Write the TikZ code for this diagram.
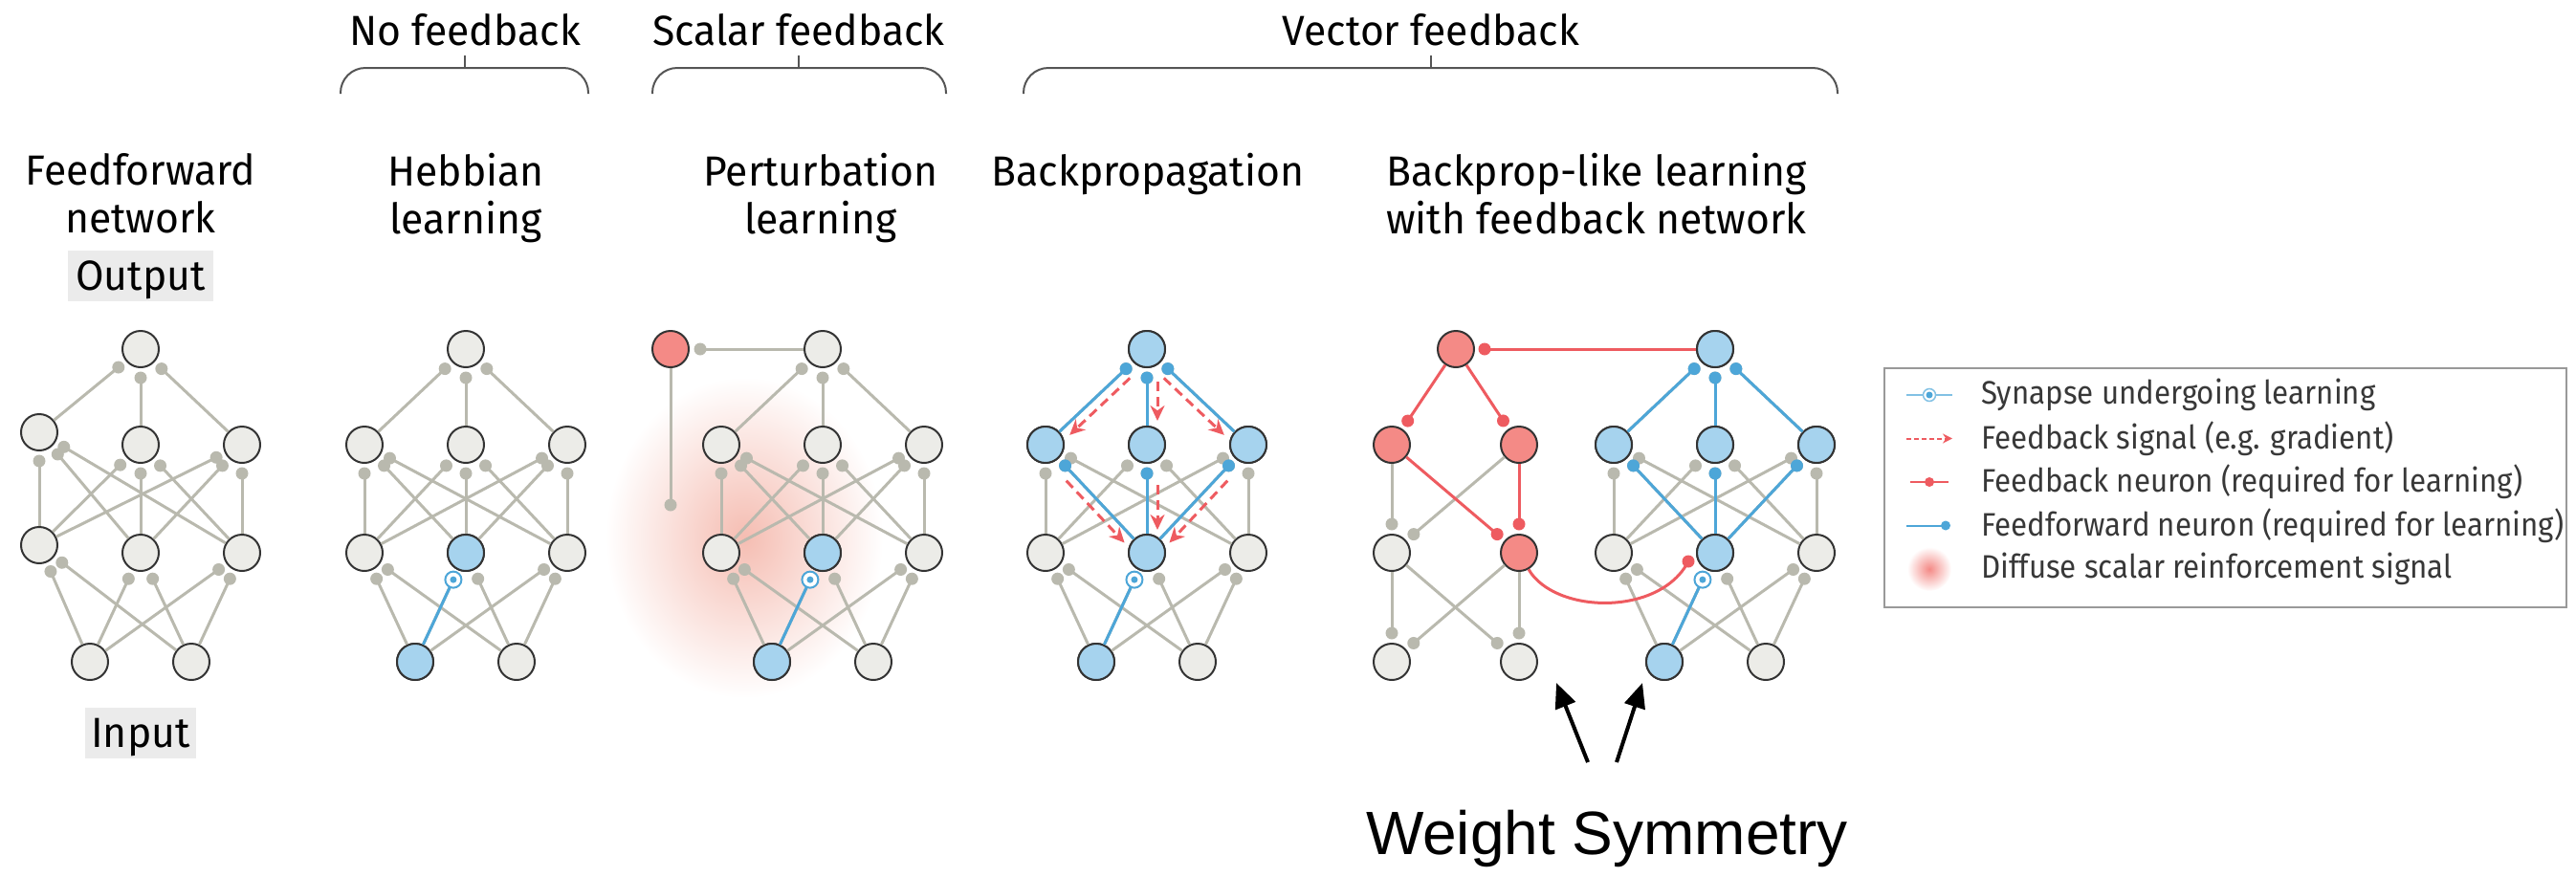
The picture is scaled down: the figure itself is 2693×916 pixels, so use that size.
\documentclass[tikz,border=0pt]{standalone}
\usepackage{fontspec}
\setmainfont{Fira Sans}[FakeStretch=0.97]
\newfontfamily\legendfont{Fira Sans}[FakeStretch=0.92]
\newfontfamily\wsfont{Liberation Sans}
\usetikzlibrary{arrows.meta,calc,shapes}
\definecolor{cellgray}{HTML}{ECECE8}
\definecolor{edgegray}{HTML}{333333}
\definecolor{wiregray}{HTML}{B9B9AE}
\definecolor{ffblue}{HTML}{A6D3EE}
\definecolor{ffline}{HTML}{4DA6D8}
\definecolor{fbred}{HTML}{F48A86}
\definecolor{fbline}{HTML}{EE5B60}
\definecolor{glowpink}{HTML}{F5BDB2}
\definecolor{bracegray}{HTML}{555555}
\tikzstyle{vertex}=[circle,draw=edgegray,line width=2pt,fill=cellgray,minimum size=38pt,inner sep=0pt]
\tikzstyle{blue vertex}=[vertex,fill=ffblue]
\tikzstyle{red vertex}=[vertex,fill=fbred]
\tikzstyle{wire}=[draw=wiregray,line width=3pt]
\tikzstyle{blue wire}=[wire,draw=ffline]
\tikzstyle{red wire}=[wire,draw=fbline]
\tikzstyle{syn}=[circle,fill=wiregray,minimum size=13pt,inner sep=0pt]
\tikzstyle{blue syn}=[syn,fill=ffline]
\tikzstyle{red syn}=[syn,fill=fbline]
\tikzstyle{learn}=[circle,draw=ffline,line width=2pt,fill=white,minimum size=17pt,inner sep=0pt,
  path picture={\fill[ffline] (path picture bounding box.center) circle (3.5pt);}]
\tikzstyle{fb signal}=[draw=fbline,line width=3pt,dash pattern=on 10pt off 6pt,-{Stealth[length=16pt,width=15pt]}]
\tikzstyle{group brace}=[draw=bracegray,line width=2pt,rounded corners=26pt]
\tikzstyle{hdr}=[font=\fontsize{44}{50}\selectfont,anchor=base,inner sep=0pt]
\tikzstyle{panel title}=[font=\fontsize{44}{50}\selectfont,align=center,anchor=north,inner sep=0pt]
\tikzstyle{io box}=[fill=black!8,minimum width=152pt,minimum height=53pt,text height=30pt,text depth=0pt,
  inner sep=0pt,font=\fontsize{44}{50}\selectfont]
\tikzstyle{legend text}=[font=\legendfont\fontsize{34}{40}\selectfont,text=black!78,anchor=west,inner sep=0pt]
\tikzstyle{sym arrow}=[draw=black,line width=4pt,-{Triangle[length=26pt,width=22pt]}]

\begin{document}
\begin{tikzpicture}[x=1pt,y=-1pt]
    \useasboundingbox (0,0) rectangle (2693,916);
    % diffuse reinforcement signal
    \shade[inner color=glowpink,outer color=white] (778,562) ellipse [x radius=145pt,y radius=168pt];

    % headers and braces
    \foreach \l/\r/\m/\txt in {356/615/486/No feedback, 682/989/835/Scalar feedback, 1070/1921/1496/Vector feedback} {
        \node[hdr] (hdr\m) at (\m,47) {\txt};
        \draw[group brace] (\l,98) -- (\l,71) -- (\r,71) -- (\r,98);
        \draw[group brace] (\m,71) -- (\m,58);
    }
    \node[panel title] (tff) at (147,160) {Feedforward\\network};
    \node[panel title] (thb) at (487,160) {Hebbian\\learning};
    \node[panel title] (tpt) at (858,160) {Perturbation\\learning};
    \node[panel title] (tbp) at (1200,160) {Backpropagation};
    \node[panel title] (tfb) at (1669,160) {Backprop-like learning\\with feedback network};
    \node[io box] (outlbl) at (147,288.5) {Output};
    \node[io box,minimum width=116pt] (inlbl) at (147,766.5) {Input};

    % the five feedforward networks
    \foreach \p/\cx/\da/\db in {ff/147/13/8, hb/487/0/0, pt/860/0/0, bp/1199/0/0, fb/1793/0/0} {
        \node[vertex] (\p o) at (\cx,365) {};
        \node[vertex] (\p h1) at (\cx-106,465-\da) {};
        \node[vertex] (\p h2) at (\cx,465) {};
        \node[vertex] (\p h3) at (\cx+106,465) {};
        \node[vertex] (\p g1) at (\cx-106,578-\db) {};
        \node[vertex] (\p g2) at (\cx,578) {};
        \node[vertex] (\p g3) at (\cx+106,578) {};
        \node[vertex] (\p i1) at (\cx-53,692) {};
        \node[vertex] (\p i2) at (\cx+53,692) {};
    }
    \foreach \v in {hbg2,hbi1,ptg2,pti1,bpo,bph1,bph2,bph3,bpg2,bpi1,fbo,fbh1,fbh2,fbh3,fbg2,fbi1}
        \node[blue vertex] at (\v) {};
    % feedback neurons
    \foreach \pos/\name in {{(701,365)/ptr}, {(1522,365)/rno}, {(1455,465)/rnh1}, {(1588,465)/rnh2}, {(1588,578)/rng2}}
        \node[red vertex] (\name) at \pos {};
    \foreach \pos/\name in {{(1455,578)/rng1}, {(1455,692)/rni1}, {(1588,692)/rni2}}
        \node[vertex] (\name) at \pos {};

    \foreach \p in {ff,hb,pt,bp,fb} {
        \foreach \s in {h1,h2,h3}
            \path[wire] (\p\s) -- ($(\p o)!30pt!(\p\s)$) node[syn] {};
        \foreach \t in {h1,h2,h3}
            \foreach \s in {g1,g2,g3}
                \path[wire] (\p\s) -- ($(\p\t)!30pt!(\p\s)$) node[syn] {};
        \foreach \t in {g1,g2,g3}
            \foreach \s in {i1,i2}
                \path[wire] (\p\s) -- ($(\p\t)!30pt!(\p\s)$) node[syn] {};
    }
    \foreach \a/\b in {rnh1/rng1, rnh2/rng1, rng1/rni1, rng2/rni1, rng1/rni2, rng2/rni2}
        \path[wire] (\a) -- ($(\b)!30pt!(\a)$) node[syn] {};
    \foreach \a/\b in {rno/rnh1, rno/rnh2, rnh1/rng2, rnh2/rng2, fbo/rno}
        \path[red wire] (\a) -- ($(\b)!30pt!(\a)$) node[red syn] {};
    \coordinate (fbin) at ($(fbg2)+(-28,9)$);
    \path[red wire] (rng2) .. controls (1625,642) and (1735,645) .. (fbin) node[red syn] {};

    % perturbation neuron
    \coordinate (ptd) at (701,528);
    \path[wire] (pto) -- ($(ptr)!31pt!(pto)$) node[syn] {};
    \path[wire] (ptr) -- (ptd) node[syn] {};

    % learning pathways
    \foreach \p in {bp,fb} {
        \foreach \s in {h1,h2,h3}
            \path[blue wire] (\p\s) -- ($(\p o)!30pt!(\p\s)$) node[blue syn] {};
        \foreach \t in {h1,h2,h3}
            \path[blue wire] (\p g2) -- ($(\p\t)!30pt!(\p g2)$) node[blue syn] {};
    }
    \foreach \p in {hb,pt,bp,fb}
        \path[blue wire] (\p i1) -- ($(\p g2)!31pt!(\p i1)$) node[learn] {};
    \foreach \t/\dx/\dy in {h1/7/7, h2/11/0, h3/-7/7}
        \draw[fb signal,shorten <=14pt,shorten >=5pt,transform canvas={shift={(\dx,\dy)}}] (bpo) -- (bp\t);
    \foreach \s/\dx/\dy in {h1/-7/7, h2/11/0, h3/7/7}
        \draw[fb signal,shorten <=22pt,shorten >=4pt,transform canvas={shift={(\dx,\dy)}}] (bp\s) -- (bpg2);

    % weight symmetry
    \node[font=\wsfont\fontsize{64}{70}\selectfont,anchor=base,inner sep=0pt] (ws) at (1680,893) {Weight Symmetry};
    \coordinate (wslt) at (1660,797);
    \coordinate (wsrt) at (1690,797);
    \coordinate (wsl) at (1627,714);
    \coordinate (wsr) at (1717,714);
    \draw[sym arrow] (wslt) -- (wsl);
    \draw[sym arrow] (wsrt) -- (wsr);

    % legend
    \shade[inner color=fbred,outer color=white] (2017,595) circle (23pt);
    \draw[draw=black!40,line width=1.5pt] (1970,385) rectangle (2683,635);
    \draw[blue wire,draw=ffline!70,line width=2pt] (1993,413) -- (2041,413);
    \node[learn,draw=ffline!70,minimum size=13pt,line width=1.5pt] (key1) at (2017,413) {};
    \draw[fb signal,line width=2pt,dash pattern=on 5pt off 3pt,-{Stealth[length=10pt,width=10pt]}] (1993,458.5) -- (2041,458.5);
    \path[red wire,line width=2pt] (1997,504) -- (2037,504);
    \node[red syn,minimum size=10pt] (key3) at (2017,504) {};
    \path[blue wire,line width=2pt] (1993,549.5) -- (2034,549.5) node[blue syn,minimum size=10pt] (key4) {};
    \foreach \y/\txt [count=\i] in {413/{Synapse undergoing learning}, 458.5/{Feedback signal (e.g. gradient)},
        504/{Feedback neuron (required for learning)}, 549.5/{Feedforward neuron (required for learning)},
        595/{Diffuse scalar reinforcement signal}}
        \node[legend text] (lg\i) at (2071,\y) {\txt};
\end{tikzpicture}
\end{document}
